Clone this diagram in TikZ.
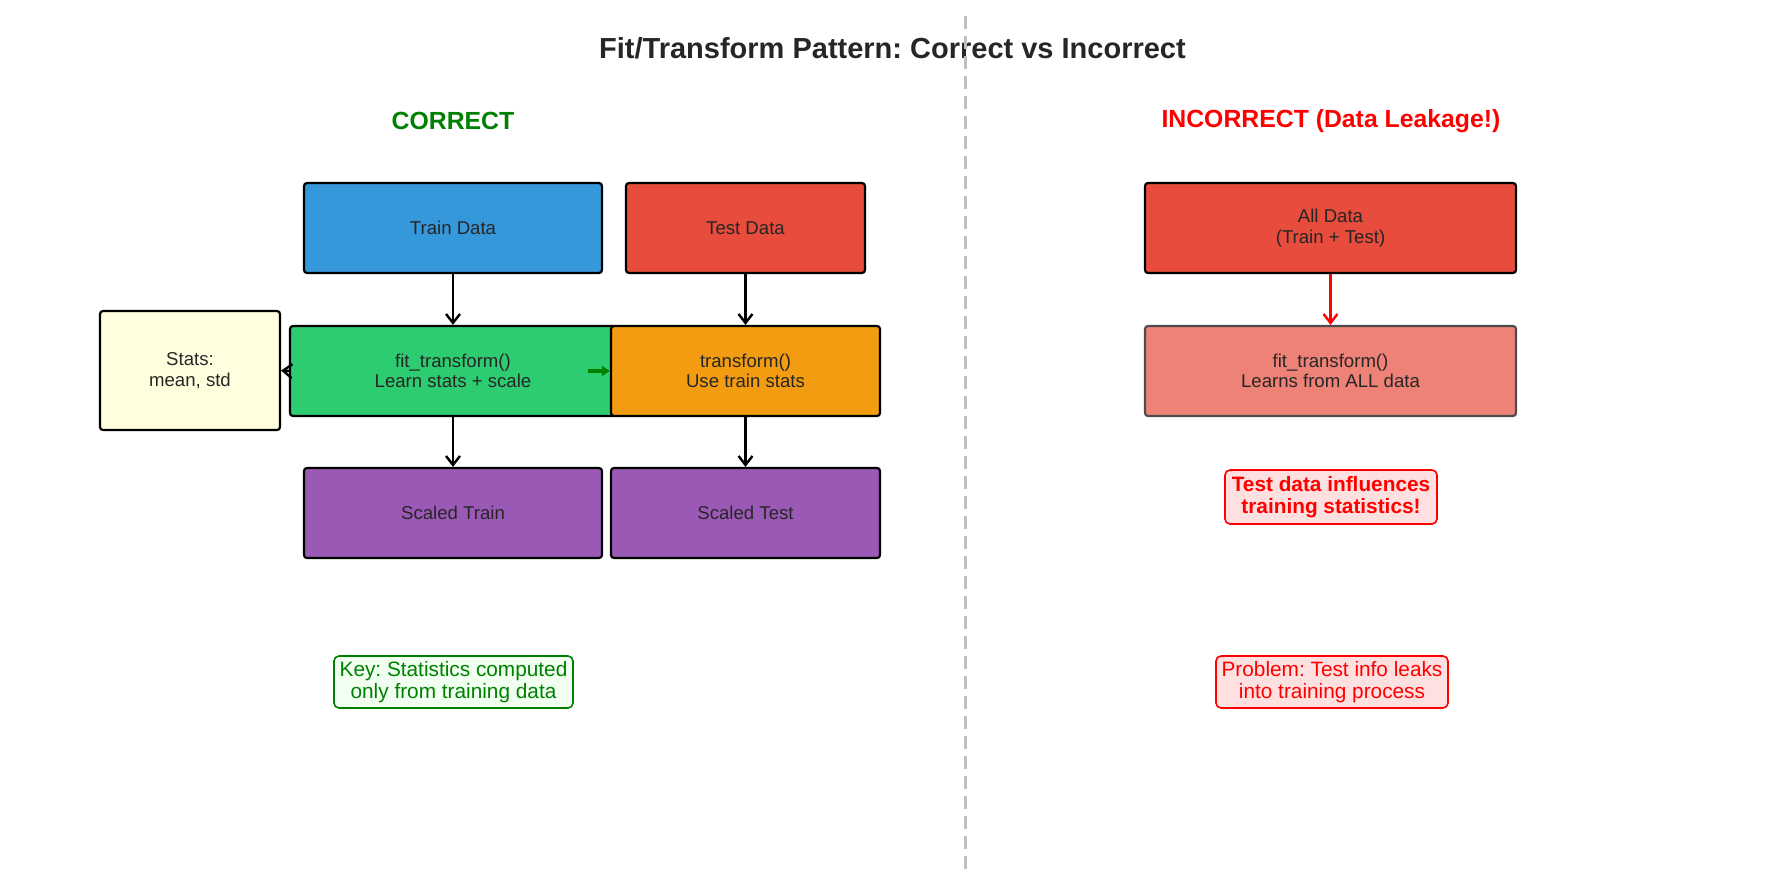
\documentclass[tikz,border=0pt]{standalone}
\usepackage{fontspec}
\setmainfont{Liberation Sans}
\frenchspacing
\usetikzlibrary{arrows.meta}
\definecolor{cTrain}{HTML}{3498DB}
\definecolor{cTest}{HTML}{E74C3C}
\definecolor{cFit}{HTML}{2ECC71}
\definecolor{cTr}{HTML}{F39C12}
\definecolor{cScaled}{HTML}{9B59B6}
\definecolor{cStats}{HTML}{FFFFE0}
\definecolor{cBad}{HTML}{EE8277}
\definecolor{cBadEdge}{HTML}{4D4D4D}
\definecolor{cTxt}{HTML}{262626}
\definecolor{cGreen}{HTML}{008000}
\definecolor{cRed}{HTML}{FF0000}
\definecolor{cWarnFill}{HTML}{FFE0E0}
\definecolor{cKeyFill}{HTML}{F0FFF0}
\definecolor{cSep}{HTML}{BFBFBF}
\tikzset{
  box/.style={draw=black, line width=1.1pt, rounded corners=1.5pt, text=cTxt,
    font=\fontsize{9.3}{10.3}\selectfont, align=center, inner sep=0pt},
  flow/.style={draw=black, line width=1.2pt, -{Straight Barb[length=4.5pt,width=7pt]}},
  note/.style={rounded corners=2.5pt, line width=0.8pt, align=center, inner sep=0pt,
    font=\fontsize{10.4}{10.9}\selectfont},
}
\begin{document}
\begin{tikzpicture}[x=0.5pt,y=-0.5pt]
\useasboundingbox (0,0) rectangle (1785,885);
% title
\node[font=\fontsize{14.5}{16}\selectfont\bfseries, text=cTxt] (title) at (892.5,48) {Fit/Transform Pattern: Correct vs Incorrect};
\node[font=\fontsize{12.4}{14}\selectfont\bfseries, text=cGreen] (hc) at (453,121) {CORRECT};
\node[font=\fontsize{12.4}{14}\selectfont\bfseries, text=cRed] (hi) at (1331,121) {INCORRECT (Data Leakage!)};
% separator
\coordinate (s1) at (965,16);
\coordinate (s2) at (965,869);
\draw[cSep, line width=1.5pt, dash pattern=on 6.5pt off 3.5pt] (s1) -- (s2);
% correct side
\node[box, fill=cTrain, minimum width=149pt, minimum height=45pt] (train) at (453,228) {Train Data};
\node[box, fill=cTest, minimum width=119.5pt, minimum height=45pt] (test) at (745.5,228) {Test Data};
\node[box, fill=cStats, minimum width=90pt, minimum height=59.5pt] (stats) at (190,370.5) {Stats:\\mean, std};
\node[box, fill=cFit, minimum width=163pt, minimum height=45pt] (fit) at (453,371) {fit\_transform()\\Learn stats + scale};
\node[box, fill=cTr, minimum width=134.5pt, minimum height=45pt] (tr) at (745.5,371) {transform()\\Use train stats};
\node[box, fill=cScaled, minimum width=149pt, minimum height=45pt] (strain) at (453,513) {Scaled Train};
\node[box, fill=cScaled, minimum width=134.5pt, minimum height=45pt] (stest) at (745.5,513) {Scaled Test};
\draw[flow] (train) -- (fit);
\draw[flow] (test) -- (tr);
\draw[flow] (fit) -- (strain);
\draw[flow] (tr) -- (stest);
\draw[flow] (fit.west) -- (stats.east);
\coordinate (g0) at (588,371);
\draw[draw=cGreen, line width=1.6pt, -{Triangle[length=4pt,width=5pt]}] (g0) -- (tr.west);
% incorrect side
\node[box, fill=cTest, minimum width=185.5pt, minimum height=45pt] (all) at (1330.5,228) {All Data\\(Train + Test)};
\node[box, draw=cBadEdge, fill=cBad, minimum width=185.5pt, minimum height=45pt] (fitbad) at (1330.5,371) {fit\_transform()\\Learns from ALL data};
\draw[flow, draw=cRed] (all) -- (fitbad);
\node[note, draw=cRed, fill=cWarnFill, text=cRed, font=\fontsize{10.4}{10.9}\selectfont\bfseries, minimum width=106pt, minimum height=27pt] (warn) at (1331,497) {Test data influences\\training statistics!};
% notes
\node[note, draw=cGreen, fill=cKeyFill, text=cGreen, minimum width=119.5pt, minimum height=26pt] (key) at (453.5,682) {Key: Statistics computed\\only from training data};
\node[note, draw=cRed, fill=cWarnFill, text=cRed, minimum width=116pt, minimum height=26pt] (prob) at (1332,682) {Problem: Test info leaks\\into training process};
\end{tikzpicture}
\end{document}
